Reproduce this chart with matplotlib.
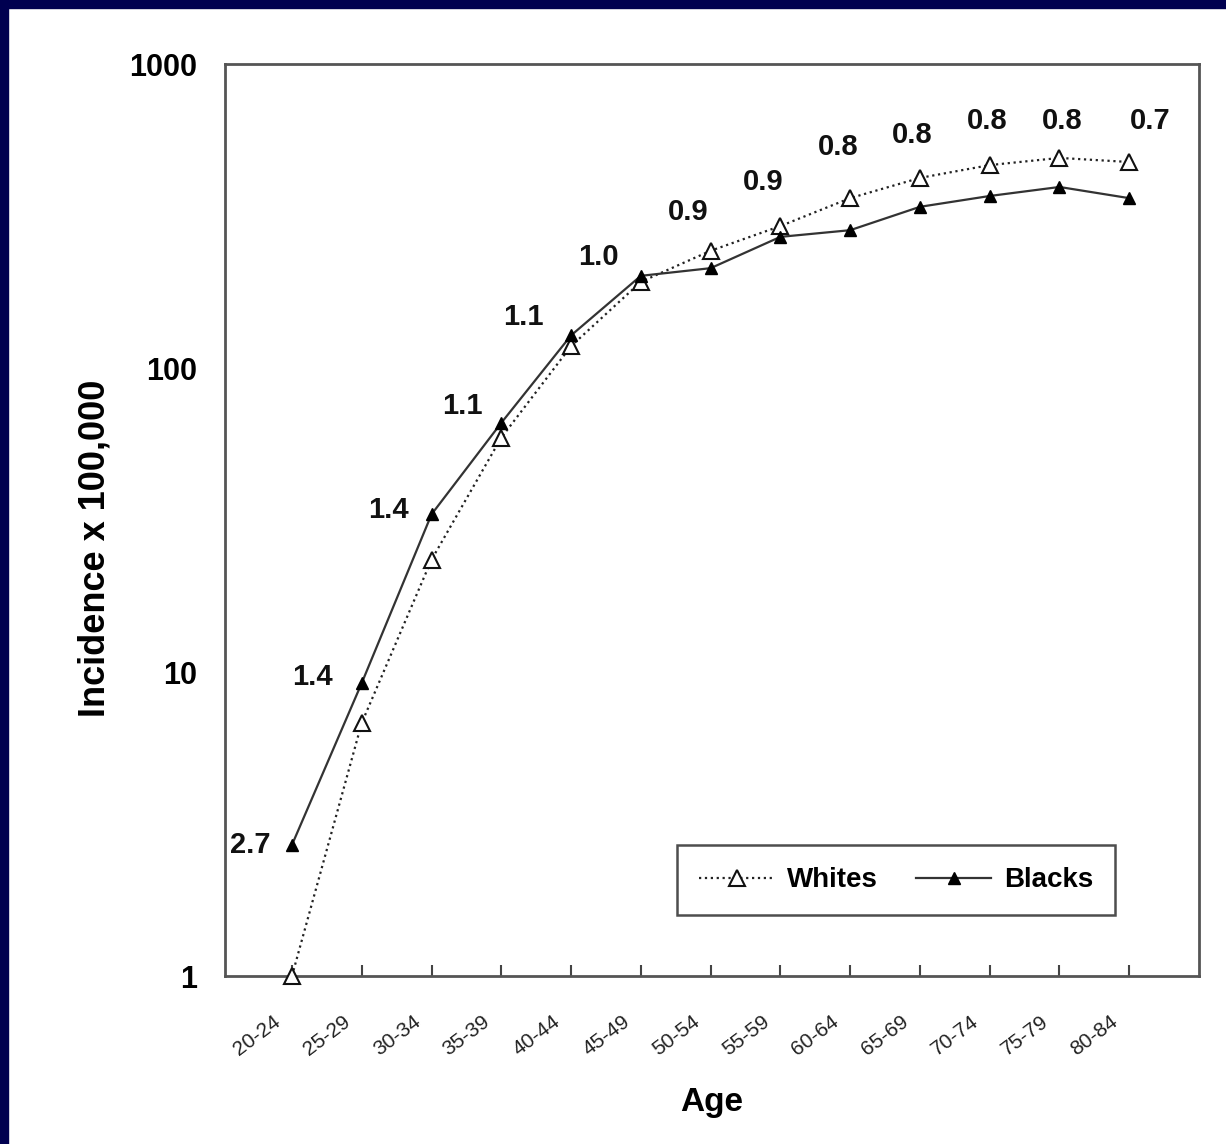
import matplotlib
matplotlib.use("Agg")
import matplotlib.pyplot as plt
from matplotlib.patches import Rectangle
from matplotlib.transforms import ScaledTranslation

plt.rcParams['font.family'] = ['Liberation Sans', 'DejaVu Sans']

# data
age_groups = ['20-24', '25-29', '30-34', '35-39', '40-44', '45-49', '50-54',
              '55-59', '60-64', '65-69', '70-74', '75-79', '80-84']
whites = [1.0, 6.8, 23.4, 59, 118, 192, 243, 293, 362, 422, 465, 491, 476]
blacks = [2.7, 9.2, 33, 66, 128, 201, 213, 270, 284, 339, 368, 394, 362]

# black/white ratio labels and where they sit (category index, incidence)
ratio_labels = ['2.7', '1.4', '1.4', '1.1', '1.1', '1.0', '0.9', '0.9',
                '0.8', '0.8', '0.8', '0.8', '0.7']
ratio_x = [-0.60, 0.30, 1.38, 2.44, 3.31, 4.39, 5.68, 6.75, 7.83, 8.89, 9.96, 11.04, 12.30]
ratio_y = [2.7, 9.6, 34, 75, 147, 232, 326, 409, 533, 584, 649, 649, 649]


def draw_chart():
    fig = plt.figure(figsize=(12.26, 11.44), dpi=100)
    fig.patch.set_facecolor('white')

    # navy frame strips (top and left edges of the slide)
    navy = '#000050'
    fig.patches.append(Rectangle((0, 1 - 8 / 1144), 1, 8 / 1144, transform=fig.transFigure,
                                 color=navy, zorder=0))
    fig.patches.append(Rectangle((0, 0), 8 / 1226, 1, transform=fig.transFigure,
                                 color=navy, zorder=0))

    ax = fig.add_axes([225 / 1226, 1 - 976 / 1144, (1199 - 225) / 1226, (976 - 64) / 1144])
    x = list(range(len(age_groups)))

    ax.plot(x, whites, linestyle=':', color='#222222', linewidth=1.6, marker='^',
            markersize=11, markerfacecolor='white', markeredgecolor='#111111',
            markeredgewidth=1.5, label='Whites', clip_on=False, zorder=3)
    ax.plot(x, blacks, linestyle='-', color='#333333', linewidth=1.6, marker='^',
            markersize=9, markerfacecolor='black', markeredgecolor='black',
            label='Blacks', clip_on=False, zorder=4)

    for lab, lx, ly in zip(ratio_labels, ratio_x, ratio_y):
        ax.text(lx, ly, lab, ha='center', va='center', fontsize=21, fontweight='bold',
                color='#111111')

    ax.set_yscale('log')
    ax.set_ylim(1, 1000)
    ax.set_xlim(-0.96, 13.0)
    ax.set_yticks([1, 10, 100, 1000])
    ax.set_yticklabels(['1', '10', '100', '1000'], fontsize=22, fontweight='bold')
    ax.yaxis.set_minor_locator(matplotlib.ticker.NullLocator())
    ax.tick_params(axis='y', length=0, pad=20)

    ax.set_xticks(x)
    ax.set_xticklabels(age_groups, rotation=37, ha='right', rotation_mode='anchor',
                       fontsize=15, color='#222222')
    ax.tick_params(axis='x', direction='in', length=8, width=1.5, color='#444444', pad=26)
    shift = ScaledTranslation(-19 / 100, 0, fig.dpi_scale_trans)
    for lbl in ax.get_xticklabels():
        lbl.set_transform(lbl.get_transform() + shift)

    for sp in ax.spines.values():
        sp.set_color('#555555')
        sp.set_linewidth(2)

    ax.set_xlabel('Age', fontsize=24, fontweight='bold', labelpad=20)
    ax.set_ylabel('Incidence x 100,000', fontsize=26, fontweight='bold')
    ax.yaxis.set_label_coords(-0.116, 0.469)

    leg = ax.legend(loc='center', bbox_to_anchor=(0.689, 0.105), ncol=2, fontsize=20,
                    frameon=True, fancybox=False, edgecolor='#222222',
                    handlelength=2.7, handletextpad=0.45, columnspacing=1.4,
                    borderpad=0.8, borderaxespad=0)
    leg.get_frame().set_linewidth(1.8)
    for t in leg.get_texts():
        t.set_fontweight('bold')

    fig.savefig('out.png', dpi=100, facecolor='white')


if __name__ == "__main__":
    draw_chart()
